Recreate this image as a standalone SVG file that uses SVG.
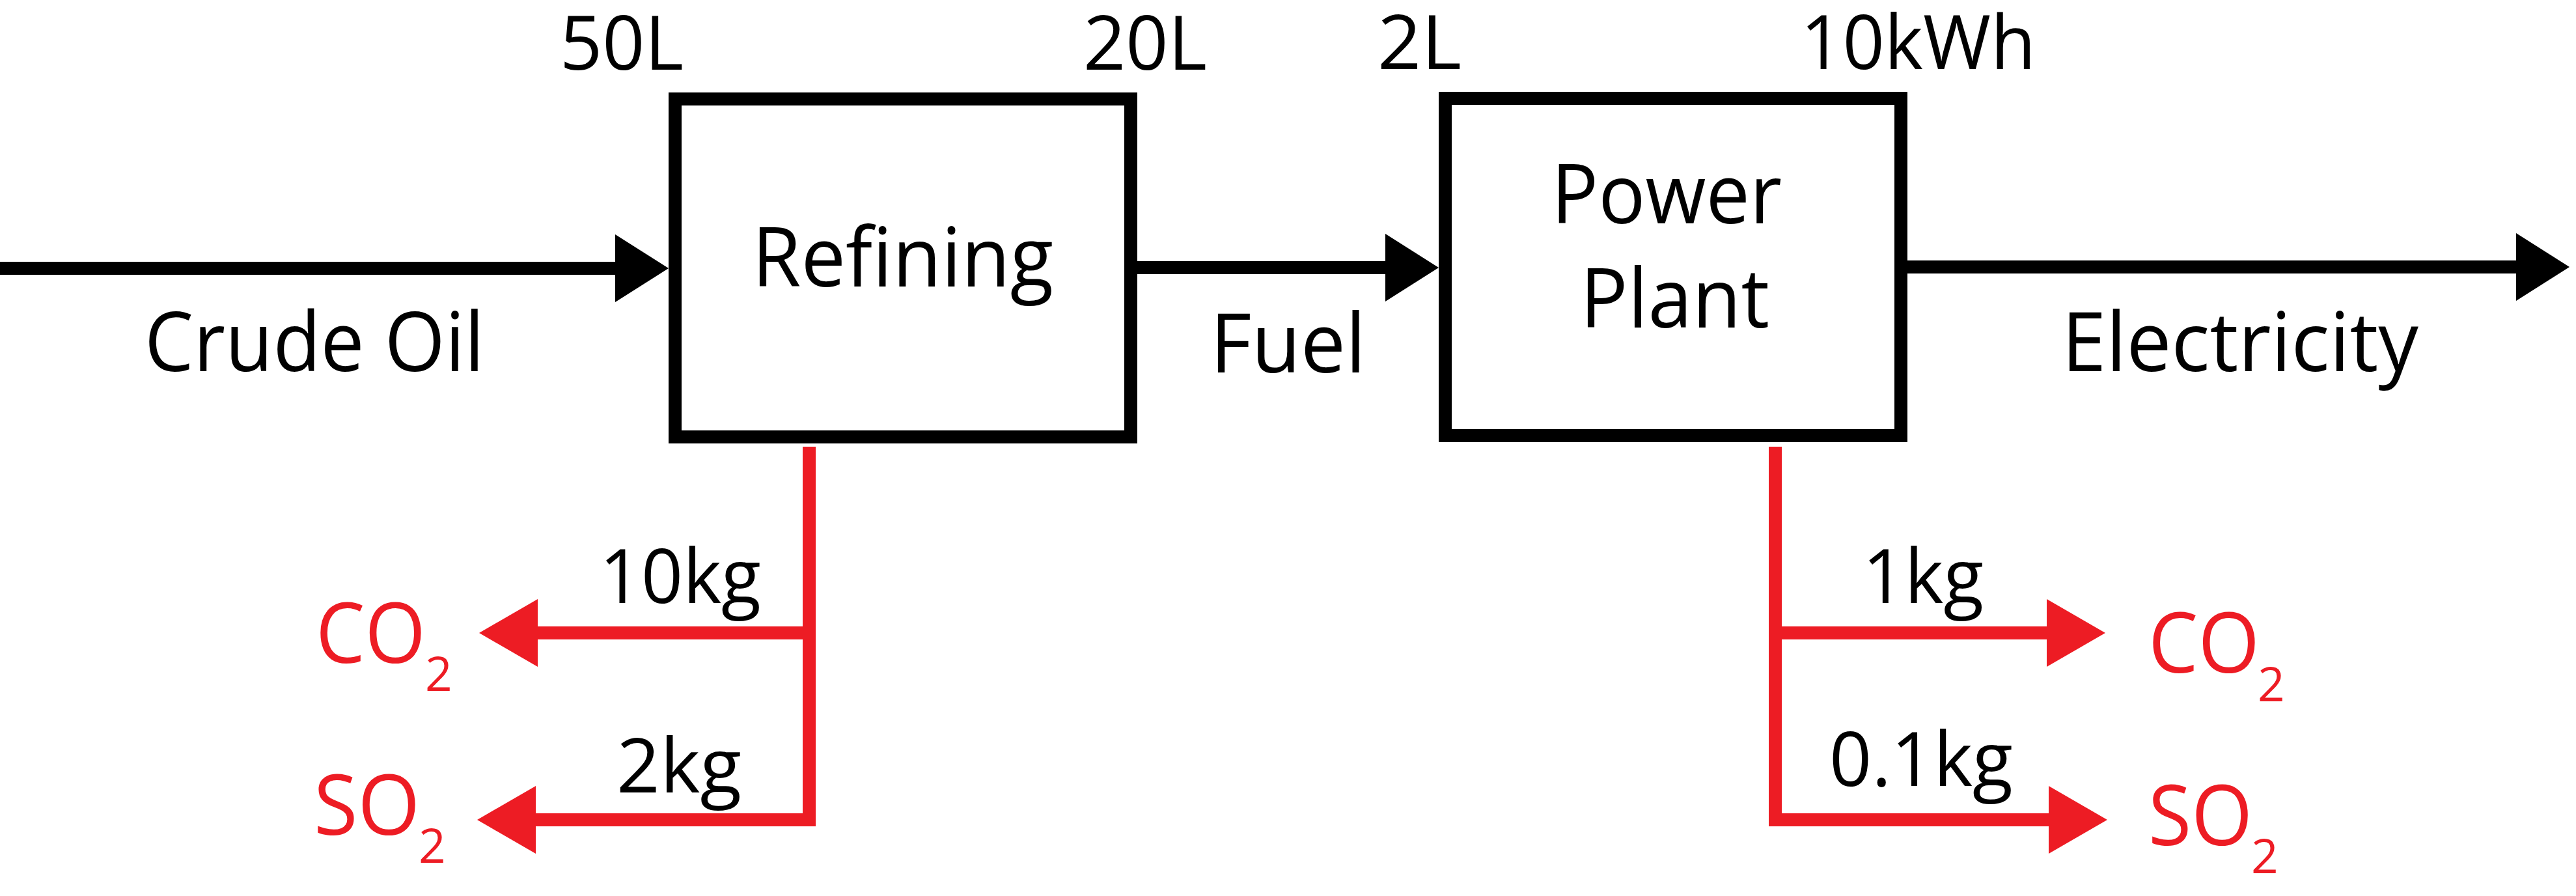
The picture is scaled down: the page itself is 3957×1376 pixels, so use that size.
<svg xmlns="http://www.w3.org/2000/svg" width="3957" height="1376" viewBox="0 0 3957 1376">
<style>
.box{fill:#fff;stroke:#000;stroke-width:20}
.lbl{font-family:"Open Sans","Noto Sans","Liberation Sans",sans-serif;fill:#000}
.big{font-size:126px}
.num{font-size:115px}
.chem{font-family:"Open Sans","Noto Sans","Liberation Sans",sans-serif;fill:#ED1C24;font-size:129px}
.sub{font-size:73px}
.blk{fill:none;stroke:#000;stroke-width:20}
.red{fill:none;stroke:#ED1C24;stroke-width:20;stroke-linejoin:miter}
</style>
<defs>
<marker id="ab" markerUnits="userSpaceOnUse" viewBox="0 0 82 104" refX="1" refY="52" markerWidth="82" markerHeight="104" orient="auto" overflow="visible">
<path d="M0,0 L82,52 L0,104 Z" fill="#000"/>
</marker>
<marker id="ar" markerUnits="userSpaceOnUse" viewBox="0 0 90 104" refX="1" refY="52" markerWidth="90" markerHeight="104" orient="auto" overflow="visible">
<path d="M0,0 L90,52 L0,104 Z" fill="#ED1C24"/>
</marker>
</defs>
<rect width="3957" height="1376" fill="#fff"/>
<g id="connectors">
<path class="blk" d="M0,412 H946" marker-end="url(#ab)"/>
<path class="blk" d="M1747,411 H2129" marker-end="url(#ab)"/>
<path class="blk" d="M2930,410 H3866" marker-end="url(#ab)"/>
<path class="red" d="M1243,686 V1259 H822" marker-end="url(#ar)"/>
<path class="red" d="M1243,972 H825" marker-end="url(#ar)"/>
<path class="red" d="M2727,686 V1259 H3148" marker-end="url(#ar)"/>
<path class="red" d="M2727,972 H3145" marker-end="url(#ar)"/>
</g>
<g id="refining">
<rect class="box" x="1037" y="152" width="700" height="519"/>
<text class="lbl big" x="1155" y="440" textLength="463" lengthAdjust="spacingAndGlyphs">Refining</text>
</g>
<g id="power-plant">
<rect class="box" x="2220" y="151" width="700" height="518"/>
<text class="lbl big" x="2383" y="343" textLength="354" lengthAdjust="spacingAndGlyphs">Power</text>
<text class="lbl big" x="2427" y="503" textLength="291" lengthAdjust="spacingAndGlyphs">Plant</text>
</g>
<g id="labels">
<text class="lbl big" x="222" y="570" textLength="522" lengthAdjust="spacingAndGlyphs">Crude Oil</text>
<text class="lbl big" x="1859" y="572" textLength="239" lengthAdjust="spacingAndGlyphs">Fuel</text>
<text class="lbl big" x="3167" y="570" textLength="548" lengthAdjust="spacingAndGlyphs">Electricity</text>
<text class="lbl num" x="860" y="107" textLength="190" lengthAdjust="spacingAndGlyphs">50L</text>
<text class="lbl num" x="1664" y="107" textLength="190" lengthAdjust="spacingAndGlyphs">20L</text>
<text class="lbl num" x="2116" y="106" textLength="129" lengthAdjust="spacingAndGlyphs">2L</text>
<text class="lbl num" x="2766" y="106" textLength="361" lengthAdjust="spacingAndGlyphs">10kWh</text>
<text class="lbl num" x="921" y="926" textLength="248" lengthAdjust="spacingAndGlyphs">10kg</text>
<text class="lbl num" x="947" y="1217" textLength="192" lengthAdjust="spacingAndGlyphs">2kg</text>
<text class="lbl num" x="2861" y="926" textLength="186" lengthAdjust="spacingAndGlyphs">1kg</text>
<text class="lbl num" x="2810" y="1207" textLength="282" lengthAdjust="spacingAndGlyphs">0.1kg</text>
</g>
<g id="emission-co2-refining">
<text class="chem"><tspan x="485" y="1018" textLength="169" lengthAdjust="spacingAndGlyphs">CO</tspan><tspan class="sub" x="653" y="1061">2</tspan></text>
</g>
<g id="emission-so2-refining">
<text class="chem"><tspan x="482" y="1282" textLength="163" lengthAdjust="spacingAndGlyphs">SO</tspan><tspan class="sub" x="643" y="1325">2</tspan></text>
</g>
<g id="emission-co2-plant">
<text class="chem"><tspan x="3300" y="1033" textLength="171" lengthAdjust="spacingAndGlyphs">CO</tspan><tspan class="sub" x="3468" y="1077">2</tspan></text>
</g>
<g id="emission-so2-plant">
<text class="chem"><tspan x="3300" y="1298" textLength="160" lengthAdjust="spacingAndGlyphs">SO</tspan><tspan class="sub" x="3458" y="1341">2</tspan></text>
</g>
</svg>
